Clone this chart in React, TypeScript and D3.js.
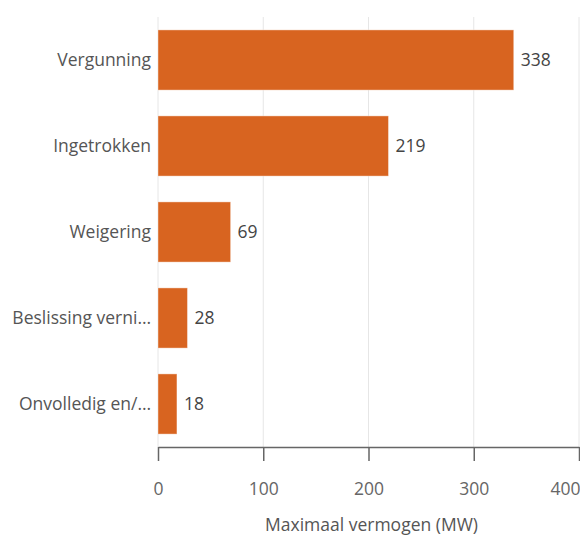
import * as d3 from 'd3';
import { useEffect, useRef } from 'react';

const categories = ['Vergunning', 'Ingetrokken', 'Weigering', 'Beslissing verni…', 'Onvolledig en/…'];
const values = [338, 219, 69, 28, 18];
const xTicks = [0, 100, 200, 300, 400];
const xTitle = 'Maximaal vermogen (MW)';

const W = 580;
const H = 536;

export default function App() {
    const svgRef = useRef<SVGSVGElement>(null);

    useEffect(() => {
        if (!svgRef.current) return;
        const svg = d3.select(svgRef.current);
        svg.selectAll('*').remove();

        const margin = { top: 17, right: 1, bottom: 89, left: 158 };
        const width = W - margin.left - margin.right;
        const height = H - margin.top - margin.bottom;
        const font = "'Open Sans', sans-serif";
        const fs = 17.5;

        const x = d3.scaleLinear().domain([0, 400]).range([0, width]);
        const y = d3
            .scaleBand<string>()
            .domain(categories)
            .range([0, height])
            .paddingInner(0.3)
            .paddingOuter(0.15);

        const g = svg.append('g').attr('transform', 'translate(' + margin.left + ',' + margin.top + ')');

        // gridlines
        g.append('g')
            .selectAll('line')
            .data(xTicks)
            .join('line')
            .attr('x1', (d) => x(d))
            .attr('x2', (d) => x(d))
            .attr('y1', 0)
            .attr('y2', height)
            .attr('stroke', '#e6e6e6')
            .attr('stroke-width', 1);

        // bars
        g.append('g')
            .selectAll('rect')
            .data(values)
            .join('rect')
            .attr('x', 0)
            .attr('y', (_, i) => y(categories[i])!)
            .attr('width', (d) => x(d))
            .attr('height', y.bandwidth())
            .attr('fill', '#d86420')
            .attr('stroke', '#ffffff')
            .attr('stroke-opacity', 0.4)
            .attr('stroke-width', 1);

        // value labels
        g.append('g')
            .selectAll('text')
            .data(values)
            .join('text')
            .attr('x', (d) => x(d) + 7)
            .attr('y', (_, i) => y(categories[i])! + y.bandwidth() / 2)
            .attr('dy', '0.35em')
            .attr('font-family', font)
            .attr('font-size', fs)
            .attr('fill', '#444')
            .text((d) => d);

        // category labels
        g.append('g')
            .selectAll('text')
            .data(categories)
            .join('text')
            .attr('x', -7)
            .attr('y', (d) => y(d)! + y.bandwidth() / 2)
            .attr('dy', '0.35em')
            .attr('text-anchor', 'end')
            .attr('font-family', font)
            .attr('font-size', fs)
            .attr('fill', '#555')
            .text((d) => d);

        // x axis
        const axis = g
            .append('g')
            .attr('transform', 'translate(0,' + height + ')')
            .call(d3.axisBottom(x).tickValues(xTicks).tickSize(14).tickPadding(22).tickSizeOuter(0));
        axis.select('.domain').attr('stroke', '#666').attr('stroke-width', 1.5);
        axis.selectAll('.tick line').attr('stroke', '#666').attr('stroke-width', 1.5);
        axis.selectAll<SVGTextElement, number>('.tick text')
            .attr('font-family', font)
            .attr('font-size', fs)
            .attr('fill', '#666')
            .attr('text-anchor', (d) => (d === 400 ? 'end' : 'middle'))
            .attr('dx', (d) => (d === 400 ? 1 : 0));

        g.append('text')
            .attr('x', width / 2 + 3)
            .attr('y', height + 78)
            .attr('dy', '0.35em')
            .attr('text-anchor', 'middle')
            .attr('font-family', font)
            .attr('font-size', fs)
            .attr('fill', '#555')
            .text(xTitle);
    }, []);

    return (
        <div style={{ position: 'absolute', left: 0, top: 0 }}>
            <svg ref={svgRef} width={W} height={H} style={{ display: 'block' }} />
        </div>
    );
}
